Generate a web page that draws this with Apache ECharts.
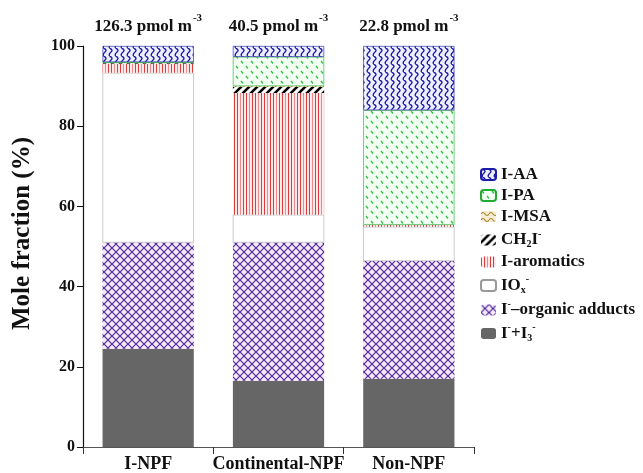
<!DOCTYPE html>
<html>
<head>
<meta charset="utf-8">
<script src="https://cdn.jsdelivr.net/npm/echarts@6/dist/echarts.min.js"></script>
<style>
  html, body { margin: 0; padding: 0; background: #fff; }
  #chart { width: 643px; height: 473px; }
</style>
</head>
<body>
<div id="chart"></div>
<script>
const categories = ['I-NPF', 'Continental-NPF', 'Non-NPF'];
const totals = ['126.3', '40.5', '22.8'];

// mole fractions (%), bottom to top of each stack
const iodideI3 = [24.5, 16.5, 17.0];
const organicAdducts = [26.5, 34.5, 29.4];
const iox = [42.3, 6.9, 8.5];
const aromatics = [2.2, 30.4, 0.5];
const ch2i = [0.2, 1.5, 0];
const msa = [0.1, 0.2, 0];
const pa = [0.2, 7.3, 28.6];
const aa = [4.0, 2.7, 16.0];

const font = 'Liberation Serif';

function makePattern(w, h, bg, draw) {
  const c = document.createElement('canvas');
  c.width = w; c.height = h;
  const ctx = c.getContext('2d');
  ctx.fillStyle = bg;
  ctx.fillRect(0, 0, w, h);
  draw(ctx);
  return { image: c, repeat: 'repeat' };
}

const patAA = makePattern(6, 8, '#eef0ff', ctx => {
  ctx.strokeStyle = '#1c1ca8'; ctx.lineWidth = 1.4;
  ctx.beginPath();
  ctx.moveTo(1.5, 0); ctx.quadraticCurveTo(5.5, 2, 3, 4);
  ctx.quadraticCurveTo(0.5, 6, 1.5, 8);
  ctx.stroke();
});
const patPA = makePattern(10, 10, '#f2fff2', ctx => {
  ctx.strokeStyle = '#33c24a'; ctx.lineWidth = 1.3;
  ctx.beginPath();
  ctx.moveTo(1, 1); ctx.lineTo(3, 3.5);
  ctx.moveTo(6, 6); ctx.lineTo(8, 8.5);
  ctx.stroke();
});
const patMSA = makePattern(8, 6, '#f6ecd2', ctx => {
  ctx.strokeStyle = '#a8842c'; ctx.lineWidth = 1.2;
  ctx.beginPath();
  ctx.moveTo(0, 3); ctx.quadraticCurveTo(2, 0, 4, 3); ctx.quadraticCurveTo(6, 6, 8, 3);
  ctx.stroke();
});
const patCH2I = makePattern(8, 8, '#ffffff', ctx => {
  ctx.strokeStyle = '#000'; ctx.lineWidth = 2.6;
  ctx.beginPath();
  ctx.moveTo(-2, 10); ctx.lineTo(10, -2);
  ctx.moveTo(-2, 2); ctx.lineTo(2, -2);
  ctx.moveTo(6, 10); ctx.lineTo(10, 6);
  ctx.stroke();
});
const patArom = makePattern(9, 4, '#fdeaea', ctx => {
  ctx.fillStyle = '#dc3c3c';
  ctx.fillRect(0, 0, 1, 4);
  ctx.fillRect(3, 0, 1, 4);
  ctx.fillStyle = '#ee8a8a';
  ctx.fillRect(6, 0, 1, 4);
});
const patOrg = makePattern(8, 8, '#f8e8f8', ctx => {
  ctx.strokeStyle = '#4a2a9a'; ctx.lineWidth = 1.2;
  ctx.beginPath();
  ctx.moveTo(0, 0); ctx.lineTo(8, 8);
  ctx.moveTo(8, 0); ctx.lineTo(0, 8);
  ctx.stroke();
});

const legendText = {
  'I-AA': 'I-AA',
  'I-PA': 'I-PA',
  'I-MSA': 'I-MSA',
  'CH2I-': 'CH{sub|2}I{sup|-}',
  'I-aromatics': 'I-aromatics',
  'IOx-': 'IO{sub|x}{sup|-}',
  'I-organic adducts': 'I{sup|-}–organic adducts',
  'I-+I3-': 'I{sup|-}+I{sub|3}{sup|-}'
};

const seriesDefs = [
  ['I-+I3-', iodideI3, '#666666'],
  ['I-organic adducts', organicAdducts, patOrg],
  ['IOx-', iox, '#ffffff'],
  ['I-aromatics', aromatics, patArom],
  ['CH2I-', ch2i, patCH2I],
  ['I-MSA', msa, patMSA],
  ['I-PA', pa, patPA],
  ['I-AA', aa, patAA]
];

const series = seriesDefs.map(([name, data, color]) => {
  const s = {
    name, type: 'bar', stack: 'total', data,
    barWidth: '70%',
    itemStyle: { color },
    emphasis: { disabled: true }
  };
  if (name === 'IOx-') {
    s.itemStyle.borderColor = '#999';
    s.itemStyle.borderWidth = 0.5;
  }
  if (name === 'I-PA') {
    s.itemStyle.borderColor = '#22aa33';
    s.itemStyle.borderWidth = 0.6;
  }
  if (name === 'I-AA') {
    s.itemStyle.borderColor = '#1c1ca8';
    s.itemStyle.borderWidth = 0.6;
    s.label = {
      show: true, position: 'top', distance: 6,
      formatter: p => '{b|' + totals[p.dataIndex] + ' pmol m}{s|-3}',
      rich: {
        b: { fontFamily: font, fontWeight: 'bold', fontSize: 17, color: '#111' },
        s: { fontFamily: font, fontWeight: 'bold', fontSize: 11, color: '#111', padding: [0, 0, 16, 1] }
      }
    };
  }
  return s;
});

const chart = echarts.init(document.getElementById('chart'));
chart.setOption({
  animation: false,
  backgroundColor: '#fff',
  grid: { left: 83, right: 169, top: 46, bottom: 26 },
  legend: {
    orient: 'vertical', left: 475, top: 161,
    itemWidth: 15, itemHeight: 11, itemGap: 4,
    data: ['I-AA', 'I-PA', 'I-MSA', 'CH2I-', 'I-aromatics', 'IOx-', 'I-organic adducts', 'I-+I3-'],
    formatter: n => legendText[n],
    textStyle: {
      fontFamily: font, fontWeight: 'bold', fontSize: 17, color: '#111', lineHeight: 15,
      rich: {
        sub: { fontFamily: font, fontWeight: 'bold', fontSize: 10, color: '#111', padding: [9, 0, 0, 0] },
        sup: { fontFamily: font, fontWeight: 'bold', fontSize: 10, color: '#111', padding: [0, 0, 12, 0] }
      }
    }
  },
  xAxis: {
    type: 'category', data: categories,
    axisLine: { lineStyle: { color: '#555', width: 1 } },
    axisTick: { show: true, alignWithLabel: false, length: 7, lineStyle: { color: '#333' } },
    axisLabel: { interval: 0, fontFamily: font, fontWeight: 'bold', fontSize: 18, color: '#111', margin: 8 }
  },
  yAxis: {
    type: 'value', min: 0, max: 100, interval: 20,
    name: 'Mole fraction (%)', nameLocation: 'middle', nameGap: 48,
    nameTextStyle: { fontFamily: font, fontWeight: 'bold', fontSize: 25, color: '#111', padding: [0, 0, 0, 26] },
    axisLine: { show: true, lineStyle: { color: '#111', width: 1.2 } },
    axisTick: { show: true, length: 6, lineStyle: { color: '#111' } },
    axisLabel: { fontFamily: font, fontWeight: 'bold', fontSize: 16, color: '#111', margin: 8 },
    splitLine: { show: false }
  },
  series
});
</script>
</body>
</html>
